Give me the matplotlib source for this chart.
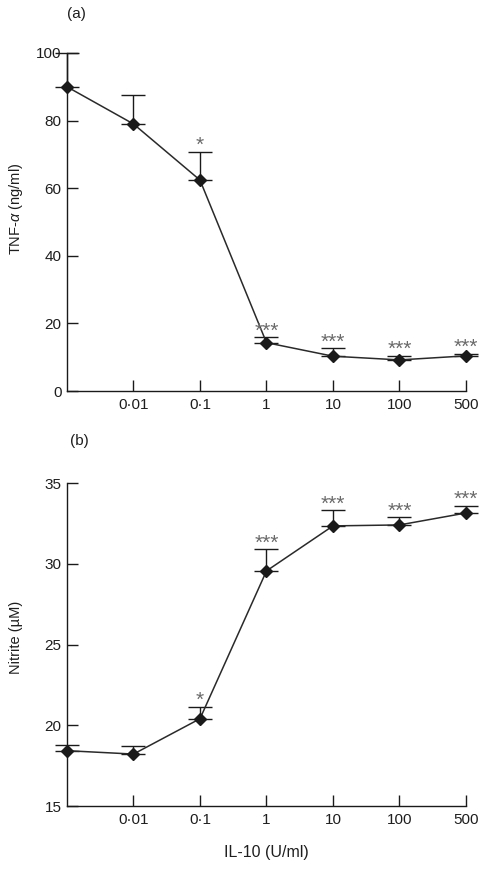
import matplotlib
matplotlib.use("Agg")
import matplotlib.pyplot as plt

plt.rcParams['font.family'] = ['Liberation Sans', 'DejaVu Sans']
plt.rcParams['mathtext.fontset'] = 'custom'
plt.rcParams['mathtext.rm'] = 'Liberation Sans'
plt.rcParams['mathtext.it'] = 'Liberation Sans:italic'

# ---- data ----
x_labels = ['', '0·01', '0·1', '1', '10', '100', '500']
tnf_mean = [90.0, 79.0, 62.4, 14.3, 10.3, 9.2, 10.4]
tnf_err = [10.0, 8.7, 8.4, 1.6, 2.3, 1.2, 0.6]
nitrite_mean = [18.43, 18.22, 20.41, 29.57, 32.36, 32.42, 33.16]
nitrite_err = [0.37, 0.52, 0.75, 1.34, 0.97, 0.48, 0.46]
sig_tnf = ['', '', '*', '***', '***', '***', '***']
sig_nitrite = ['', '', '*', '***', '***', '***', '***']

TXT = '#1e1e1e'
fig = plt.figure(figsize=(4.9, 8.73), dpi=100)
ax1 = fig.add_axes([0.1367, 0.5521, 0.8143, 0.3872])
ax2 = fig.add_axes([0.1367, 0.0767, 0.8143, 0.3697])

xs = list(range(len(x_labels)))

def draw(ax, mean, err, sig, ylim, yticks, ylabel, ylab_y):
    ax.plot(xs, mean, color='#2a2a2a', lw=1.1, zorder=3, clip_on=False)
    ax.errorbar(xs, mean, yerr=[[0]*len(err), err], fmt='none', ecolor='#1a1a1a',
                elinewidth=1.0, capsize=8.5, capthick=1.0, zorder=2, clip_on=False)
    ax.plot(xs, mean, linestyle='none', marker='D', markersize=6.3,
            color='#1a1a1a', zorder=4, clip_on=False)
    for x, m, e, s in zip(xs, mean, err, sig):
        if s:
            ax.annotate(s, (x, m + e), xytext=(0, 0.5), textcoords='offset points',
                        ha='center', va='baseline', fontsize=15, color='#6a6a6a')
    ax.set_xlim(0, len(xs) - 1)
    ax.set_ylim(*ylim)
    ax.set_xticks(xs[1:])
    ax.set_xticklabels(x_labels[1:], fontsize=11, color=TXT)
    ax.set_yticks(yticks)
    ax.set_yticklabels([str(t) for t in yticks], fontsize=11, color=TXT)
    ax.tick_params(axis='x', direction='in', length=8, width=1.0, pad=5, color='#1a1a1a')
    ax.tick_params(axis='y', direction='in', length=8, width=1.0, pad=4, color='#1a1a1a')
    for sp in ['top', 'right']:
        ax.spines[sp].set_visible(False)
    for sp in ['left', 'bottom']:
        ax.spines[sp].set_linewidth(1.0)
        ax.spines[sp].set_color('#1a1a1a')
    ax.set_ylabel(ylabel, fontsize=10.5, color=TXT)
    ax.yaxis.label.set_va('center')
    ax.yaxis.set_label_coords(-0.128, ylab_y)

draw(ax1, tnf_mean, tnf_err, sig_tnf, (0, 100), [0, 20, 40, 60, 80, 100],
     r'TNF-$\alpha$ (ng/ml)', 0.54)
draw(ax2, nitrite_mean, nitrite_err, sig_nitrite, (15, 35), [15, 20, 25, 30, 35],
     'Nitrite (µM)', 0.522)

ax2.set_xlabel('IL-10 (U/ml)', fontsize=11.5, color=TXT)
ax2.xaxis.label.set_va('center')
ax2.xaxis.set_label_coords(0.5, -0.1425)

fig.text(0.155, 1 - 14 / 873, '(a)', fontsize=11, ha='center', va='center', color=TXT)
fig.text(0.161, 1 - 441 / 873, '(b)', fontsize=11, ha='center', va='center', color=TXT)

fig.savefig('out.png', dpi=100)
